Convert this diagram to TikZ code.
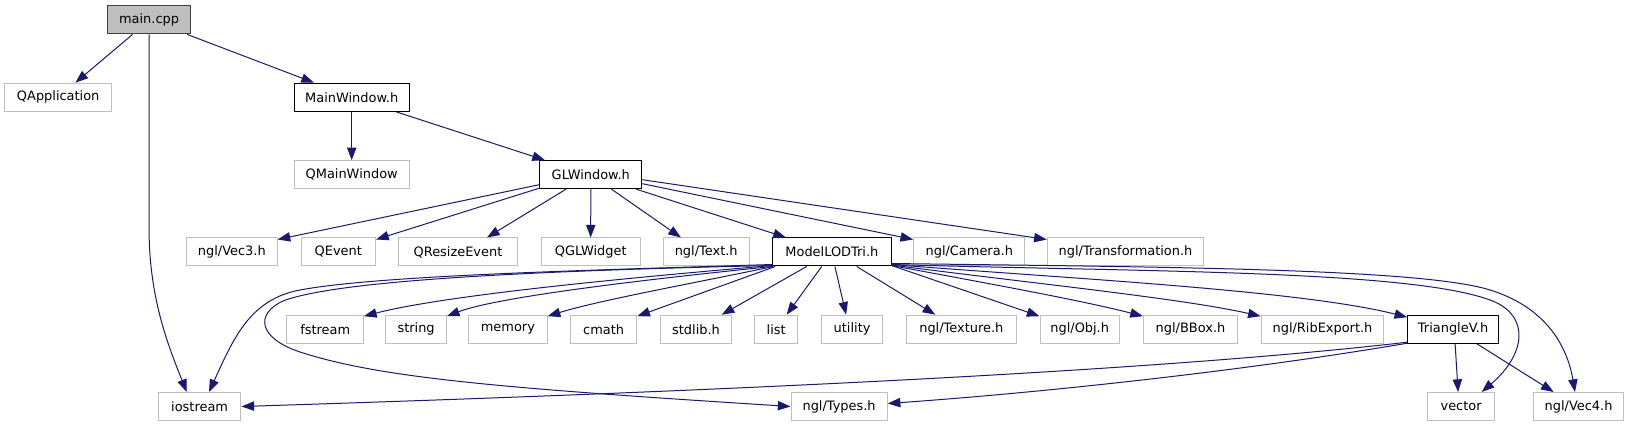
\documentclass[tikz,border=0pt]{standalone}
\usepackage{fontspec}
\setmainfont{DejaVu Sans}
\usetikzlibrary{arrows.meta,calc}
\definecolor{edgec}{RGB}{25,25,112}
\definecolor{extc}{RGB}{191,191,191}
\definecolor{rootfill}{RGB}{191,191,191}
\definecolor{rootdraw}{RGB}{64,64,64}
\begin{document}
\begin{tikzpicture}[x=0.75pt,y=-0.75pt,
  box/.style={draw, line width=0.75pt, minimum height=21pt, inner sep=0pt, font=\fontsize{9.7}{11}\selectfont, fill=white},
  wd/.style={minimum width=#1*0.75pt},
  ext/.style={box, draw=extc},
  doc/.style={box, draw=black},
  root/.style={box, draw=rootdraw, fill=rootfill},
  arr/.style={draw=edgec, line width=0.75pt, -{Triangle[length=9.5pt,width=7pt]}}
]
\useasboundingbox (0,0) rectangle (1629,427);
% row 1
\node[root,wd=82.8] (main) at (149.1,19.9) {main.cpp};
% row 2
\node[ext,wd=106.6] (qapp) at (58.2,97.2) {QApplication};
\node[doc,wd=115.3] (mainwin) at (351.7,97.2) {MainWindow.h};
% row 3
\node[ext,wd=115.3] (qmainwin) at (351.7,174.7) {QMainWindow};
\node[doc,wd=102] (glwin) at (590.8,174.7) {GLWindow.h};
% row 4
\node[ext,wd=90.6] (vec3) at (231.8,252) {ngl/Vec3.h};
\node[ext,wd=74.5] (qevent) at (338.3,252) {QEvent};
\node[ext,wd=118.6] (qresize) at (458,252) {QResizeEvent};
\node[ext,wd=99] (qgl) at (590.7,252) {QGLWidget};
\node[ext,wd=86] (text) at (706.2,252) {ngl/Text.h};
\node[doc,wd=118.3] (mlt) at (831.9,252) {ModelLODTri.h};
\node[ext,wd=111.3] (camera) at (969.3,252) {ngl/Camera.h};
\node[ext,wd=156.5] (transf) at (1125.5,252) {ngl/Transformation.h};
% row 5
\node[ext,wd=76.5] (fstream) at (325.2,329.2) {fstream};
\node[ext,wd=60.6] (string) at (416.1,329.2) {string};
\node[ext,wd=78.6] (memory) at (507.9,329.2) {memory};
\node[ext,wd=66.4] (cmath) at (603.6,329.2) {cmath};
\node[ext,wd=70.7] (stdlib) at (696,329.2) {stdlib.h};
\node[ext,wd=42.5] (list) at (776.2,329.2) {list};
\node[ext,wd=61.2] (utility) at (852.1,329.2) {utility};
\node[ext,wd=109.4] (texture) at (961.3,329.2) {ngl/Texture.h};
\node[ext,wd=79.4] (obj) at (1079.7,329.2) {ngl/Obj.h};
\node[ext,wd=94.1] (bbox) at (1190.5,329.2) {ngl/BBox.h};
\node[ext,wd=122.6] (rib) at (1322.5,329.2) {ngl/RibExport.h};
\node[doc,wd=90.8] (triv) at (1453.1,329.2) {TriangleV.h};
% row 6
\node[ext,wd=82.7] (iostream) at (199.6,406.5) {iostream};
\node[ext,wd=96.2] (types) at (839.1,406.5) {ngl/Types.h};
\node[ext,wd=66.8] (vector) at (1461.1,406.5) {vector};
\node[ext,wd=90.7] (vec4) at (1578.6,406.5) {ngl/Vec4.h};

% main.cpp
\draw[arr] ($(main.south)+(-16.5,0)$) -- ($(qapp.north)+(17.2,0)$);
\draw[arr] ($(main.south)+(38,0)$) -- ($(mainwin.north)+(-37.7,0)$);
\draw[arr] (main.south) -- (149.1,230) .. controls (149.1,300) and (170,350) .. ($(iostream.north)+(-12.9,0)$);
% MainWindow.h
\draw[arr] (mainwin.south) -- (qmainwin.north);
\draw[arr] ($(mainwin.south)+(44,0)$) -- ($(glwin.north)+(-45.8,0)$);
% GLWindow.h
\draw[arr] ($(glwin.west)+(0,10)$) -- ($(vec3.north east)+(0,2)$);
\draw[arr] ($(glwin.south west)+(0,-1)$) -- ($(qevent.north east)+(0,2)$);
\draw[arr] ($(glwin.south)+(-24.8,0)$) -- ($(qresize.north)+(29,0)$);
\draw[arr] (glwin.south) -- (qgl.north);
\draw[arr] ($(glwin.south)+(20.7,0)$) -- ($(text.north)+(-25.3,0)$);
\draw[arr] ($(glwin.south east)+(-6,0)$) -- ($(mlt.north)+(-46,0)$);
\draw[arr] ($(glwin.east)+(0,9)$) -- ($(camera.north west)+(0,2)$);
\draw[arr] ($(glwin.east)+(0,5)$) -- ($(transf.north west)+(0,2)$);
% ModelLODTri.h
\draw[arr] ($(mlt.south west)+(0,-2)$) .. controls (600,270) and (380,275) .. (300,290) .. controls (250,299.4) and (234,337.5) .. ($(iostream.north)+(9.4,0)$);
\draw[arr] ($(mlt.south west)+(0,-1)$) .. controls (520,271) and (335,281) .. (283,301) .. controls (255,314) and (258,338) .. (300,352) .. controls (380,378) and (500,388) .. (types.west);
\draw[arr] ($(mlt.south west)+(0,-1)$) .. controls (650,276) and (450,294) .. ($(fstream.north east)+(0,1.5)$);
\draw[arr] (mlt.south west) .. controls (660,278) and (500,296) .. ($(string.north east)+(0,1.5)$);
\draw[arr] ($(mlt.south west)+(1,0)$) .. controls (700,282) and (600,300) .. ($(memory.north east)+(0,1.5)$);
\draw[arr] ($(mlt.south west)+(3,0)$) -- ($(cmath.north east)+(0,1.5)$);
\draw[arr] ($(mlt.south)+(-25.2,0)$) -- ($(stdlib.north)+(25.7,0)$);
\draw[arr] ($(mlt.south)+(-10.2,0)$) -- ($(list.north)+(10.5,0)$);
\draw[arr] ($(mlt.south)+(3,0)$) -- ($(utility.north)+(-6,0)$);
\draw[arr] ($(mlt.south)+(24.8,0)$) -- ($(texture.north)+(-26,0)$);
\draw[arr] ($(mlt.south east)+(0,-1)$) -- ($(obj.north west)+(0,1.5)$);
\draw[arr] ($(mlt.south east)+(0,-1)$) .. controls (980,282) and (1080,300) .. ($(bbox.north west)+(0,1.5)$);
\draw[arr] ($(mlt.south east)+(0,-1.5)$) .. controls (1020,282) and (1180,298) .. ($(rib.north west)+(0,1.5)$);
\draw[arr] ($(mlt.south east)+(0,-2)$) .. controls (1060,278) and (1300,290) .. ($(triv.west)+(0,-12)$);
\draw[arr] ($(mlt.south east)+(0,-2)$) .. controls (1150,272) and (1420,270) .. (1495,302) .. controls (1530,318) and (1525,355) .. ($(vector.north)+(20.6,0)$);
\draw[arr] ($(mlt.south east)+(0,-3)$) .. controls (1150,267) and (1420,268) .. (1490,290) .. controls (1545,307) and (1567,345) .. ($(vec4.north)+(-3.6,0)$);
% TriangleV.h
\draw[arr] ($(triv.south west)+(0,-1.5)$) .. controls (1150,372) and (700,392) .. (iostream.east);
\draw[arr] ($(triv.south west)+(0,-0.5)$) .. controls (1250,370) and (1050,392) .. ($(types.east)+(0,-3)$);
\draw[arr] ($(triv.south)+(2,0)$) -- ($(vector.north)+(-3,0)$);
\draw[arr] ($(triv.south)+(23.6,0)$) -- ($(vec4.north)+(-25,0)$);
\end{tikzpicture}
\end{document}
